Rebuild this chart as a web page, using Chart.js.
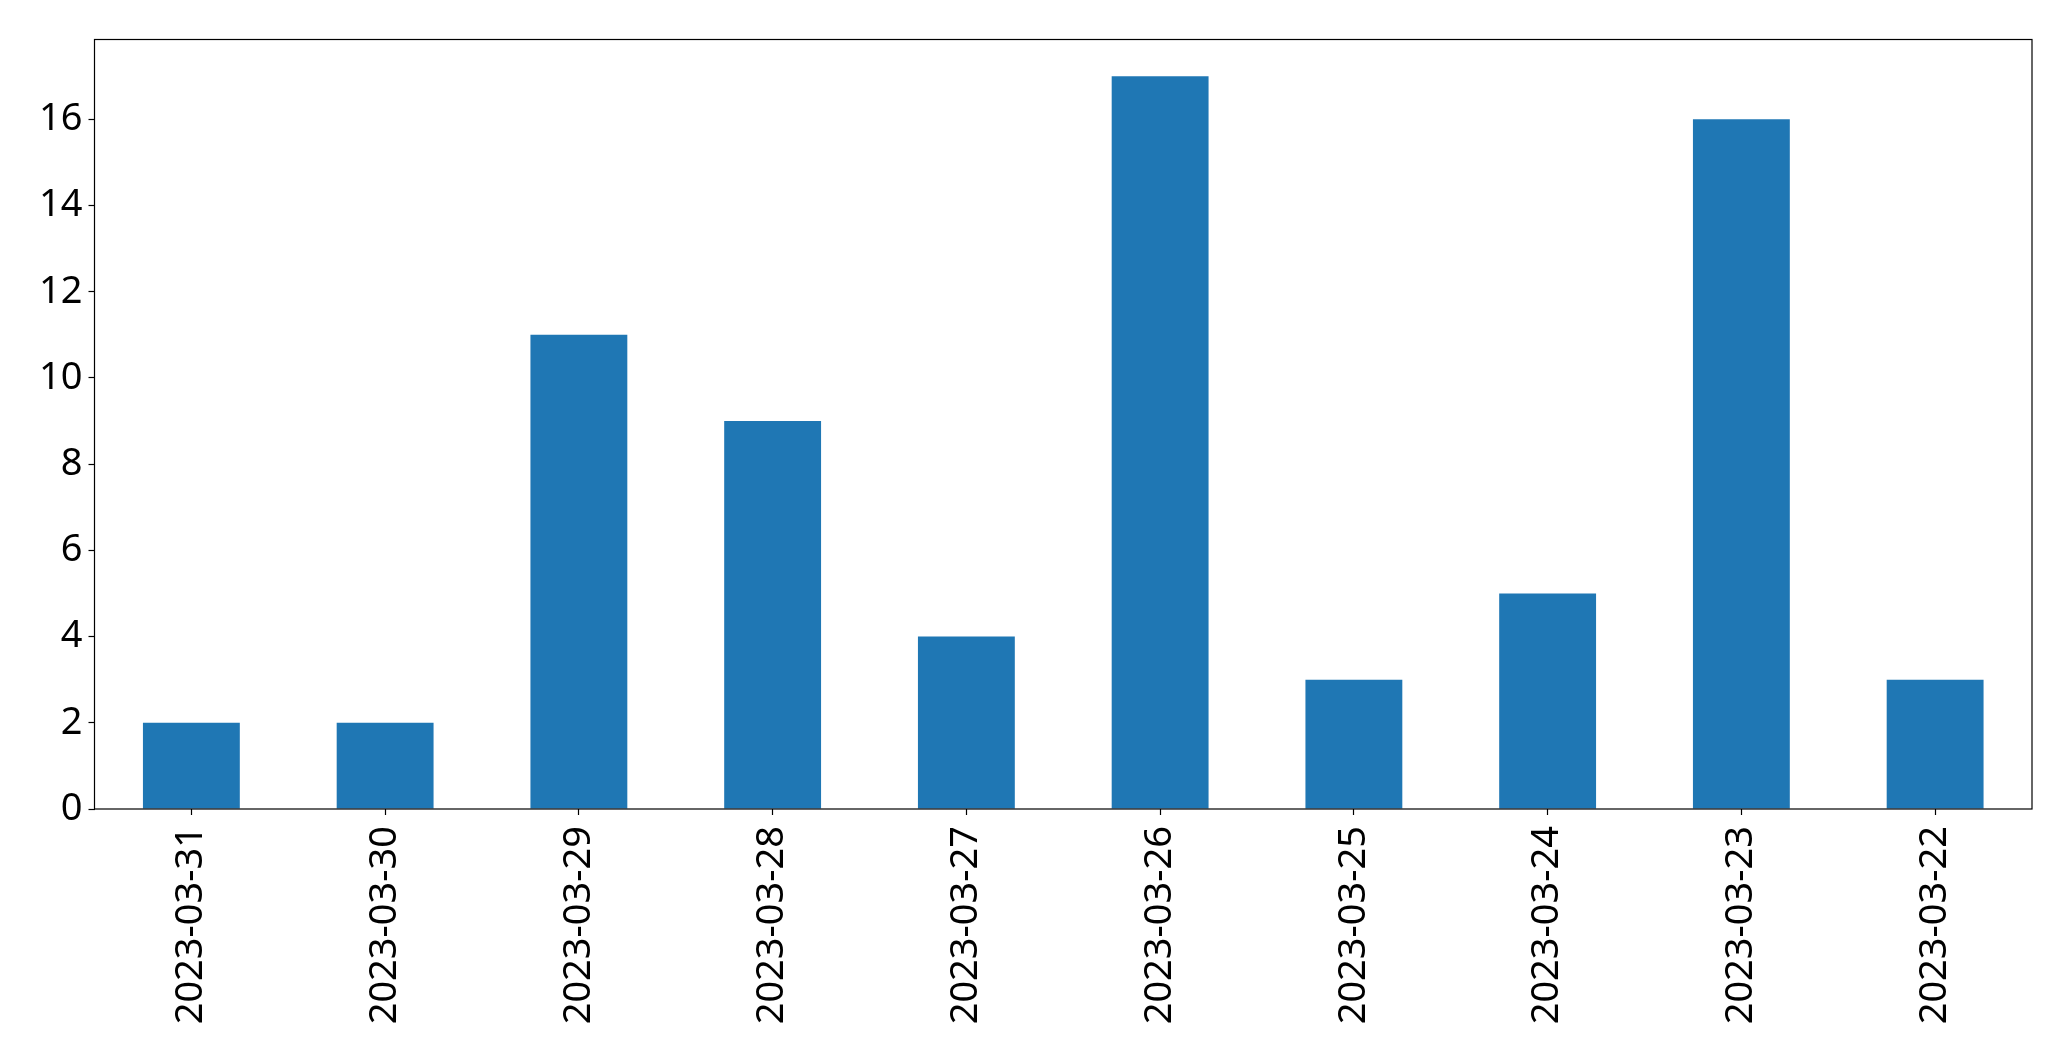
<!DOCTYPE html>
<html>
<head>
<meta charset="utf-8">
<script src="https://cdn.jsdelivr.net/npm/chart.js@4"></script>
<style>
  html, body { margin: 0; padding: 0; background: #fff; }
  #wrap { width: 2071px; height: 1061px; }
</style>
</head>
<body>
<div id="wrap"><canvas id="myChart" width="2071" height="1061"></canvas></div>
<script>
var dates = ['2023-03-31', '2023-03-30', '2023-03-29', '2023-03-28', '2023-03-27',
             '2023-03-26', '2023-03-25', '2023-03-24', '2023-03-23', '2023-03-22'];
var counts = [2, 2, 11, 9, 4, 17, 3, 5, 16, 3];
var yTicks = [0, 2, 4, 6, 8, 10, 12, 14, 16];

// frame round the plot area, like the matplotlib spines
const chartAreaBorder = {
  id: 'chartAreaBorder',
  afterDraw(chart, args, options) {
    const {ctx, chartArea: {left, top, width, height}} = chart;
    ctx.save();
    ctx.strokeStyle = options.borderColor;
    ctx.lineWidth = options.borderWidth;
    ctx.strokeRect(left, top, width, height);
    ctx.restore();
  }
};

Chart.defaults.font.family = "'Noto Sans', 'Open Sans', sans-serif";
Chart.defaults.color = '#000';

var ymax = Math.max.apply(null, counts) * 1.05;

var barChart = new Chart(document.getElementById('myChart'), {
  type: 'bar',
  data: {
    labels: dates,
    datasets: [{
      data: counts,
      backgroundColor: '#1f77b4',
      borderWidth: 0,
      barPercentage: 0.5,
      categoryPercentage: 1.0
    }]
  },
  options: {
    responsive: false,
    animation: false,
    layout: {
      padding: {top: 39.5, right: 39, left: 0, bottom: 0}
    },
    plugins: {
      legend: { display: false },
      tooltip: { enabled: false },
      chartAreaBorder: {
        borderColor: '#000',
        borderWidth: 1.2
      }
    },
    scales: {
      x: {
        border: { display: false },
        grid: {
          offset: false,
          drawOnChartArea: false,
          drawTicks: true,
          tickLength: 6,
          tickColor: '#000',
          tickWidth: 1.2
        },
        ticks: {
          font: { size: 38 },
          color: '#000',
          minRotation: 90,
          maxRotation: 90,
          padding: 11,
          autoSkip: false
        },
        afterFit: function(scale) { scale.height = 252; }
      },
      y: {
        min: 0,
        max: ymax,
        border: { display: false },
        grid: {
          drawOnChartArea: false,
          drawTicks: true,
          tickLength: 6,
          tickColor: '#000',
          tickWidth: 1.2
        },
        ticks: {
          font: { size: 38 },
          color: '#000',
          padding: 6,
          includeBounds: false,
          stepSize: 2
        },
        afterBuildTicks: function(scale) {
          scale.ticks = yTicks.map(function(v) { return {value: v}; });
        },
        afterFit: function(scale) { scale.width = 94.5; }
      }
    }
  },
  plugins: [chartAreaBorder]
});
</script>
</body>
</html>
